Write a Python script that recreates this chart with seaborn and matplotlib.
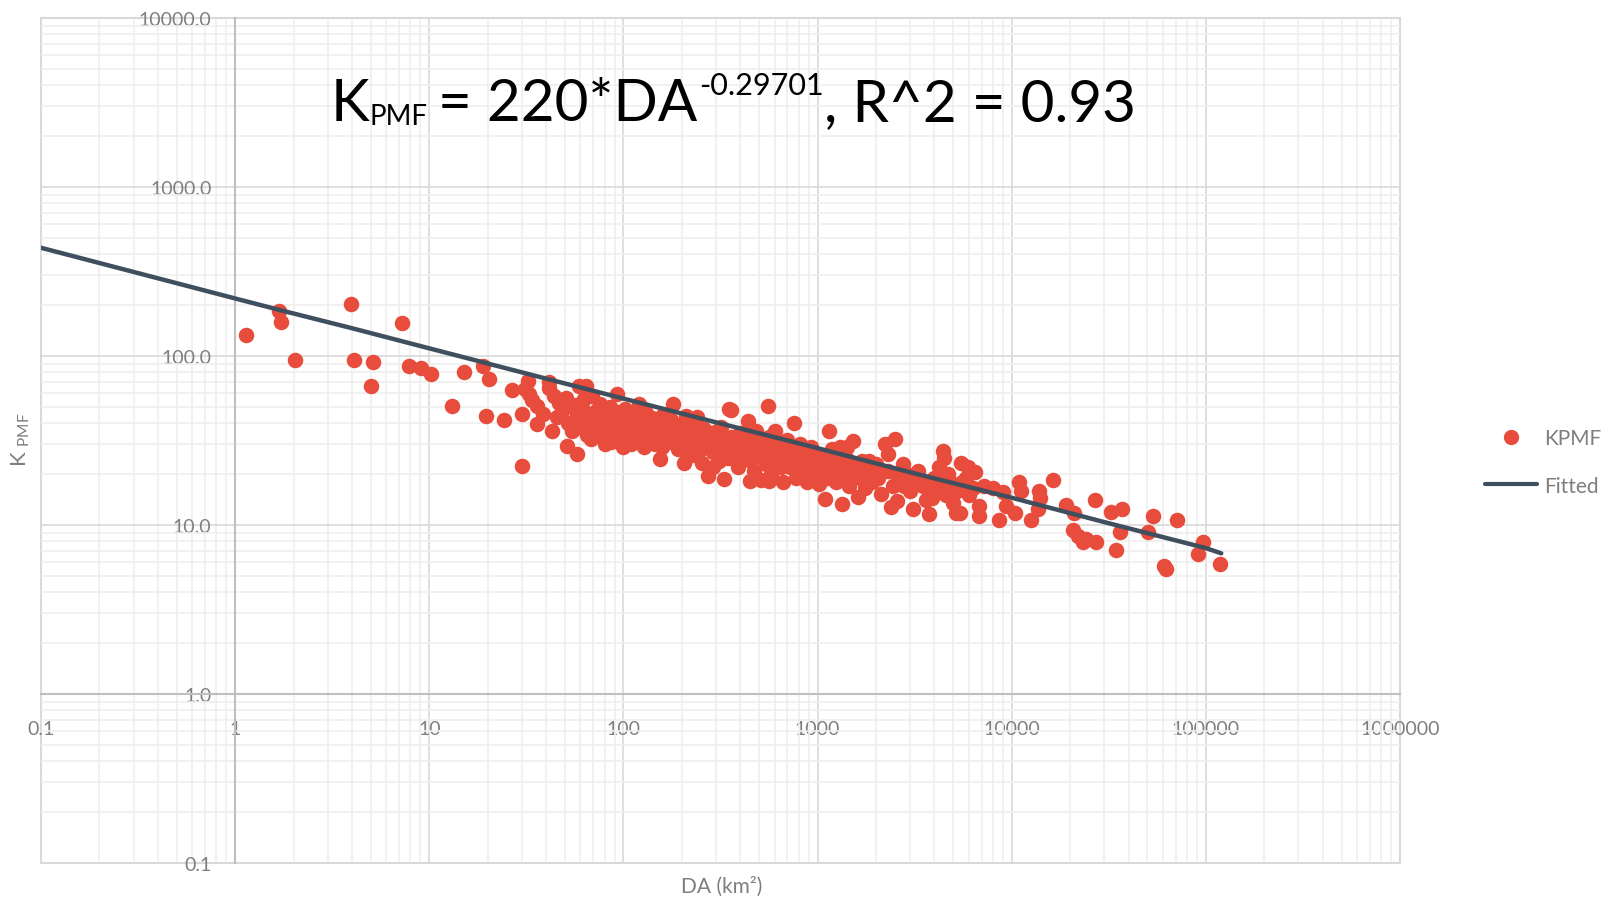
import numpy as np
import matplotlib
matplotlib.use("Agg")
import matplotlib.pyplot as plt
import seaborn as sns
from matplotlib.lines import Line2D
from matplotlib.ticker import LogLocator, NullFormatter, FixedLocator
from matplotlib.transforms import IdentityTransform

# --- data: drainage area (km2) and K_PMF ---
# DA < 30 km2
da_a = [1.14, 1.68, 1.72, 2.03, 3.93, 4.1, 5.1, 5.0, 7.2, 7.85, 9.1, 10.2,
        13.1, 15.1, 18.9, 20.3, 19.5, 24.3, 26.6]
k_a = [134, 184, 159, 95, 204, 95, 92, 66.5, 156, 87.4, 84.8, 78.5,
       50.7, 80.5, 86.7, 72.9, 44.3, 42, 63]

# 30 - 100 km2
da_b = [30, 30, 31, 32.4, 32.6, 34, 36, 38.3, 36, 41.4,
        41.6, 42.7, 44, 45.6, 46.5, 48, 50.6, 51.3, 52, 54.5,
        55, 57.8, 58, 59, 60, 62, 64.3, 65, 67.7, 69,
        70, 71.8, 72, 75, 78, 80, 82, 84, 86, 88,
        90, 93, 95, 97, 98, 76, 85, 63, 68, 89,
        92, 99, 80, 74, 57, 66]
k_b = [45.5, 22.4, 64, 71, 59.5, 55, 50.7, 45.4, 39.5, 69.7,
       64.3, 36.1, 58, 43.3, 53, 47, 56.8, 29.4, 40, 36.1,
       50, 26.3, 44, 66.5, 38, 48, 66.5, 34, 32.2, 58,
       42, 33.7, 47, 38, 44, 35, 40, 44.2, 31, 37,
       42, 59.5, 36.9, 33, 45, 52, 50, 56, 40, 47,
       39, 29, 30, 35, 51, 45]

# 100 - 1000 km2
da_c = [102, 105, 108, 110, 112, 115, 118, 120, 122, 125,
        128, 130, 133, 136, 140, 143, 146, 150, 155, 155,
        160, 165, 170, 175, 181, 185, 190, 195, 200, 204,
        210, 215, 220, 225, 230, 238, 245, 250, 254, 260,
        268, 274, 280, 290, 300, 310, 320, 329, 335, 345,
        349, 360, 360, 375, 390, 400, 410, 420, 437, 445,
        460, 470, 480, 500, 510, 520, 540, 553, 560, 575,
        590, 600, 620, 640, 660, 680, 700, 720, 740, 754,
        770, 790, 810, 830, 850, 880, 900, 930, 960, 990,
        104, 114, 126, 138, 148, 158, 168, 178, 188, 198,
        212, 228, 242, 258, 272, 288, 305, 325, 340, 370,
        395, 425, 455, 490, 530, 570, 610, 650, 690, 730,
        448, 562]
k_c = [48.4, 40, 35, 30, 44, 38, 33, 52, 41, 36,
       29, 46, 39, 33, 43, 37, 30, 41, 24.5, 34,
       45, 38, 31, 42, 51.9, 35, 28, 39, 33, 23.4,
       44, 36, 30, 26, 40, 43.3, 33, 28, 23.4, 37,
       31, 19.6, 35, 27, 32, 24, 38, 18.7, 29, 25,
       48.4, 48, 33, 28, 22, 35, 30, 25, 41.3, 27,
       31, 21, 36, 26, 18.5, 30, 23, 50.7, 33, 20,
       27, 36, 24, 30, 18, 26, 32, 22, 28, 40,
       19, 25, 30, 21, 27, 18, 24, 29, 20, 26,
       42, 31, 43, 35, 38, 29, 40, 33, 37, 28,
       34, 32, 38, 30, 34, 22, 36, 28, 31, 26,
       29, 33, 24, 29, 26, 24, 28, 22, 29, 25,
       18.3, 18.1]

# 1000 - 10000 km2
da_d = [1020, 1050, 1092, 1100, 1148, 1150, 1200, 1250, 1303, 1330,
        1350, 1400, 1450, 1527, 1550, 1619, 1650, 1700, 1750, 1800,
        1900, 2000, 2120, 2222, 2311, 2400, 2500, 2553, 2600, 2700,
        2800, 2900, 3000, 3112, 3200, 3300, 3500, 3600, 3743, 3800,
        4000, 4200, 4436, 4500, 4600, 4800, 5000, 5190, 5400, 5510,
        5550, 5960, 6000, 6330, 6460, 6760, 6760, 7200, 8000, 8570,
        9000, 9380,
        1000, 1080, 1120, 1180, 1280, 1380, 1420, 1480, 1600, 1850,
        2050, 2300, 2450, 2750, 3400, 3900, 4300, 4700, 5200, 5800]
k_d = [17.6, 22, 14.3, 26, 35.8, 20, 24, 18, 28.8, 13.3,
       21, 25, 17, 31.5, 22, 14.6, 19, 24, 16.5, 21,
       18, 23, 15.3, 30.1, 26.3, 12.7, 32.2, 13.9, 19, 21,
       17, 20, 16, 12.5, 19, 21, 17, 14, 11.6, 16,
       19, 22, 27.5, 25, 15, 18, 13.5, 11.8, 11.8, 23.4,
       17.9, 21.9, 15, 16.5, 20.5, 13.0, 11.3, 17, 16.5, 10.7,
       15.7, 13.0,
       22, 24, 19, 28, 22, 19, 29, 23, 20, 24,
       19, 21, 17, 23, 18, 14.5, 17, 20, 16, 19]

# > 10000 km2
da_e = [10350, 10900, 11200, 12500, 13700, 13900, 14000, 16300, 19100, 20600,
        21000, 22000, 23200, 24000, 26700, 27200, 32500, 34500, 36300, 37000,
        50600, 53300, 61100, 62000, 70800, 90600, 96100, 118500]
k_e = [11.8, 17.9, 15.9, 10.7, 12.5, 15.9, 14.5, 18.5, 13.1, 9.4,
       11.8, 8.6, 7.9, 8.3, 14.1, 7.9, 12.0, 7.1, 9.1, 12.4,
       9.1, 11.3, 5.7, 5.5, 10.7, 6.7, 7.9, 5.9]

# fitted curve
fit_da = [0.1, 1.0, 1.64, 4.0, 10, 30, 100, 300, 1000, 3000, 10000, 30000, 100000, 120000]
fit_k = [437, 219, 189, 146, 111, 80, 56, 40.5, 28.5, 20.5, 14.5, 10.4, 7.3, 6.8]

x_ticks = [0.1, 1, 10, 100, 1000, 10000, 100000, 1000000]
x_tick_labels = ["0.1", "1", "10", "100", "1000", "10000", "100000", "1000000"]
y_ticks = [0.1, 1, 10, 100, 1000, 10000]
y_tick_labels = ["0.1", "1.0", "10.0", "100.0", "1000.0", "10000.0"]

title_pieces = ["K", "PMF", "= 220*DA", "-0.29701", ", R^2 = 0.93"]
legend_labels = ["KPMF", "Fitted"]

da = da_a + da_b + da_c + da_d + da_e
kpmf = k_a + k_b + k_c + k_d + k_e

RED = "#E74C3C"
DARK = "#3F4F5E"
GREY = "#7F7F7F"

sns.set_theme(style="white")
plt.rcParams["font.family"] = ["Lato", "DejaVu Sans"]
plt.rcParams["mathtext.default"] = "regular"

fig = plt.figure(figsize=(16.17, 9.03), dpi=100)
W, H = 1617, 903
ax = fig.add_axes([41 / W, 39 / H, (1400 - 41) / W, (884 - 39) / H])

sns.scatterplot(x=da, y=kpmf, color=RED, s=125, linewidth=0, ax=ax, zorder=3, legend=False)
sns.lineplot(x=fit_da, y=fit_k, color=DARK, linewidth=3.2, ax=ax, sort=False,
             estimator=None, zorder=4, legend=False)

ax.set_xscale("log")
ax.set_yscale("log")
ax.set_xlim(0.1, 1e6)
ax.set_ylim(0.1, 1e4)

ax.xaxis.set_major_locator(FixedLocator(x_ticks))
ax.set_xticklabels(x_tick_labels)
ax.yaxis.set_major_locator(FixedLocator(y_ticks))
ax.set_yticklabels(y_tick_labels)
for axis in (ax.xaxis, ax.yaxis):
    axis.set_minor_locator(LogLocator(base=10, subs=np.arange(2, 10), numticks=100))
    axis.set_minor_formatter(NullFormatter())

ax.set_axisbelow(True)
ax.grid(which="major", color="#d9d9d9", linewidth=1.2)
ax.grid(which="minor", color="#efefef", linewidth=1.2)

# axes cross at 1 like the spreadsheet original
ax.spines["top"].set_visible(False)
ax.spines["right"].set_visible(False)
ax.spines["left"].set_position(("data", 1))
ax.spines["bottom"].set_position(("data", 1))
for side in ("left", "bottom"):
    ax.spines[side].set_color("#bfbfbf")
    ax.spines[side].set_linewidth(1.5)
ax.patch.set_edgecolor("#d9d9d9")
ax.patch.set_linewidth(1.5)

ax.tick_params(axis="x", which="both", direction="in", length=5, color="#bfbfbf",
               pad=19, labelsize=14, labelcolor=GREY)
ax.tick_params(axis="y", which="both", length=0, pad=17, labelsize=14, labelcolor=GREY)
ax.set_xlabel("")
ax.set_ylabel("")

fig.text(722 / W, 1 - 887 / H, "DA (km\u00b2)", fontsize=15, color=GREY,
         ha="center", va="center")
fig.text(21 / W, 1 - 440 / H, r"K $_{PMF}$", fontsize=16, color=GREY,
         rotation=90, ha="center", va="center")

# equation title built from pieces (sub/superscripts in smaller type)
sizes = [42, 20, 42, 22, 42]
dys = [0, -4, 0, 26, 0]
gaps = [0, 1, 10, 2, 0]
renderer = fig.canvas.get_renderer()
texts = []
widths = []
for s, size in zip(title_pieces, sizes):
    t = fig.text(0, 0, s, fontsize=size, color="black", ha="left", va="baseline",
                 transform=IdentityTransform())
    texts.append(t)
    widths.append(t.get_window_extent(renderer).width)
total = sum(widths) + sum(gaps)
x = 733 - total / 2
base_y = H - 121
for t, w, g, dy in zip(texts, widths, gaps, dys):
    x += g
    t.set_position((x, base_y + dy))
    x += w

handles = [Line2D([], [], marker="o", ls="", color=RED, markersize=10),
           Line2D([], [], color=DARK, lw=3)]
fig.legend(handles, legend_labels, loc="center left", bbox_to_anchor=(1485 / W, 1 - 463 / H),
           frameon=False, fontsize=15, handlelength=2.5, handletextpad=0.35,
           labelspacing=1.3, borderpad=0, borderaxespad=0, labelcolor=GREY)

fig.savefig("out.png", dpi=100)
